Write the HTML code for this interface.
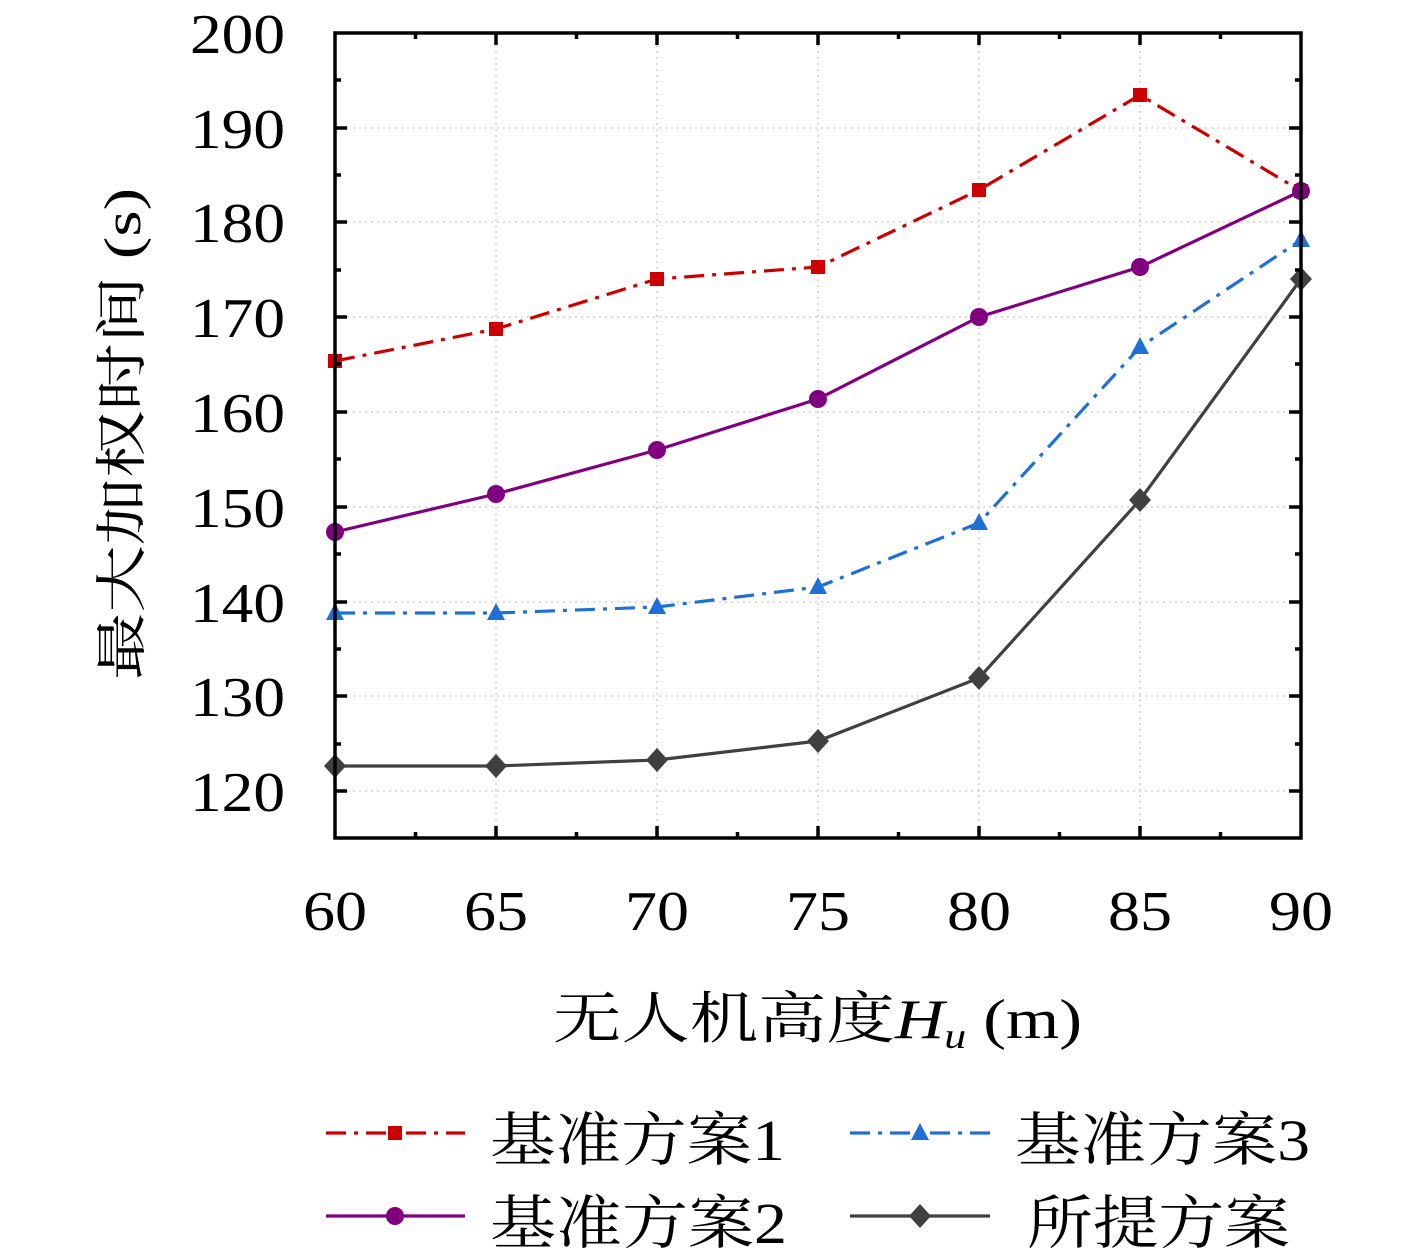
<!DOCTYPE html>
<html><head><meta charset="utf-8"><style>
html,body{margin:0;padding:0;background:#fff;}
svg{display:block;}
text{font-family:"Liberation Serif","Noto Serif CJK SC",serif;fill:#000;}
</style></head><body>
<svg width="1417" height="1259" viewBox="0 0 1417 1259" xmlns="http://www.w3.org/2000/svg">
<defs>
<rect id="sq" x="-7" y="-7" width="14" height="14" fill="#cc0000"/>
<circle id="ci" r="9" fill="#800080"/>
<path id="tr" d="M0,-10 L9,7 L-9,7 Z" fill="#1f6fd6"/>
<path id="di" d="M0,-12 L11,0 L0,12 L-11,0 Z" fill="#404040"/>
</defs>
<g stroke="#c8c8c8" stroke-width="1.3" stroke-dasharray="2,4">
<line x1="496" y1="33" x2="496" y2="838"/><line x1="657" y1="33" x2="657" y2="838"/><line x1="818" y1="33" x2="818" y2="838"/><line x1="979" y1="33" x2="979" y2="838"/><line x1="1140" y1="33" x2="1140" y2="838"/>
<line x1="335" y1="128" x2="1301" y2="128"/><line x1="335" y1="222" x2="1301" y2="222"/><line x1="335" y1="317" x2="1301" y2="317"/><line x1="335" y1="412" x2="1301" y2="412"/><line x1="335" y1="507" x2="1301" y2="507"/><line x1="335" y1="602" x2="1301" y2="602"/><line x1="335" y1="696" x2="1301" y2="696"/><line x1="335" y1="791" x2="1301" y2="791"/>
</g>
<polyline points="335,361 496,329 657,279 818,267 979,190 1140,95 1301,191" fill="none" stroke="#cc0000" stroke-width="3.2" stroke-dasharray="20,8,4,8"/>
<polyline points="335,532 496,494 657,450 818,399 979,317 1140,267 1301,191" fill="none" stroke="#800080" stroke-width="3.2"/>
<polyline points="335,613 496,613 657,607 818,587 979,523 1140,347 1301,240" fill="none" stroke="#1f6fd6" stroke-width="3.2" stroke-dasharray="20,8,4,8"/>
<polyline points="335,766 496,766 657,760 818,741 979,678 1140,500 1301,279" fill="none" stroke="#404040" stroke-width="3.2"/>
<g>
<use href="#sq" x="335" y="361"/><use href="#sq" x="496" y="329"/><use href="#sq" x="657" y="279"/><use href="#sq" x="818" y="267"/><use href="#sq" x="979" y="190"/><use href="#sq" x="1140" y="95"/><use href="#sq" x="1301" y="191"/>
<use href="#tr" x="335" y="613"/><use href="#tr" x="496" y="613"/><use href="#tr" x="657" y="607"/><use href="#tr" x="818" y="587"/><use href="#tr" x="979" y="523"/><use href="#tr" x="1140" y="347"/><use href="#tr" x="1301" y="240"/>
<use href="#ci" x="335" y="532"/><use href="#ci" x="496" y="494"/><use href="#ci" x="657" y="450"/><use href="#ci" x="818" y="399"/><use href="#ci" x="979" y="317"/><use href="#ci" x="1140" y="267"/><use href="#ci" x="1301" y="191"/>
<use href="#di" x="335" y="766"/><use href="#di" x="496" y="766"/><use href="#di" x="657" y="760"/><use href="#di" x="818" y="741"/><use href="#di" x="979" y="678"/><use href="#di" x="1140" y="500"/><use href="#di" x="1301" y="279"/>
</g>
<rect x="335" y="33" width="966" height="805" fill="none" stroke="#000" stroke-width="3.5"/>
<g stroke="#000" stroke-width="3.5">
<path d="M496,838v-12M657,838v-12M818,838v-12M979,838v-12M1140,838v-12M496,33v12M657,33v12M818,33v12M979,33v12M1140,33v12"/>
<path d="M415.5,838v-6M576.5,838v-6M737.5,838v-6M898.5,838v-6M1059.5,838v-6M1220.5,838v-6M415.5,33v6M576.5,33v6M737.5,33v6M898.5,33v6M1059.5,33v6M1220.5,33v6"/>
<path d="M335,128h12M335,222h12M335,317h12M335,412h12M335,507h12M335,602h12M335,696h12M335,791h12M1301,128h-12M1301,222h-12M1301,317h-12M1301,412h-12M1301,507h-12M1301,602h-12M1301,696h-12M1301,791h-12"/>
<path d="M335,80h6M335,175h6M335,270h6M335,364h6M335,459h6M335,554h6M335,649h6M335,744h6M1301,80h-6M1301,175h-6M1301,270h-6M1301,364h-6M1301,459h-6M1301,554h-6M1301,649h-6M1301,744h-6"/>
</g>
<g font-size="56">
<text x="190" y="53" textLength="95" lengthAdjust="spacingAndGlyphs">200</text>
<text x="190" y="148" textLength="95" lengthAdjust="spacingAndGlyphs">190</text>
<text x="190" y="242" textLength="95" lengthAdjust="spacingAndGlyphs">180</text>
<text x="190" y="337" textLength="95" lengthAdjust="spacingAndGlyphs">170</text>
<text x="190" y="432" textLength="95" lengthAdjust="spacingAndGlyphs">160</text>
<text x="190" y="527" textLength="95" lengthAdjust="spacingAndGlyphs">150</text>
<text x="190" y="622" textLength="95" lengthAdjust="spacingAndGlyphs">140</text>
<text x="190" y="716" textLength="95" lengthAdjust="spacingAndGlyphs">130</text>
<text x="190" y="811" textLength="95" lengthAdjust="spacingAndGlyphs">120</text>
</g>
<g font-size="56">
<text x="303" y="930" textLength="64" lengthAdjust="spacingAndGlyphs">60</text>
<text x="464" y="930" textLength="64" lengthAdjust="spacingAndGlyphs">65</text>
<text x="625" y="930" textLength="64" lengthAdjust="spacingAndGlyphs">70</text>
<text x="786" y="930" textLength="64" lengthAdjust="spacingAndGlyphs">75</text>
<text x="947" y="930" textLength="64" lengthAdjust="spacingAndGlyphs">80</text>
<text x="1108" y="930" textLength="64" lengthAdjust="spacingAndGlyphs">85</text>
<text x="1269" y="930" textLength="64" lengthAdjust="spacingAndGlyphs">90</text>
</g>
<text transform="translate(140,680) rotate(-90)" font-size="52" textLength="492" lengthAdjust="spacingAndGlyphs">最大加权时间 (s)</text>
<text x="553" y="1038" font-size="56" textLength="529" lengthAdjust="spacingAndGlyphs">无人机高度<tspan font-style="italic">H</tspan><tspan font-style="italic" font-size="36" dy="10">u</tspan><tspan dy="-10"> (m)</tspan></text>
<line x1="326" y1="1133" x2="465" y2="1133" stroke="#cc0000" stroke-width="3.2" stroke-dasharray="20,8,4,8"/>
<use href="#sq" x="395" y="1133"/>
<text x="490" y="1160" font-size="58" textLength="295" lengthAdjust="spacingAndGlyphs">基准方案1</text>
<line x1="326" y1="1216" x2="465" y2="1216" stroke="#800080" stroke-width="3.2"/>
<use href="#ci" x="395" y="1216"/>
<text x="490" y="1243" font-size="58" textLength="297" lengthAdjust="spacingAndGlyphs">基准方案2</text>
<line x1="850" y1="1133" x2="990" y2="1133" stroke="#1f6fd6" stroke-width="3.2" stroke-dasharray="20,8,4,8"/>
<use href="#tr" x="920" y="1133"/>
<text x="1015" y="1160" font-size="58" textLength="295" lengthAdjust="spacingAndGlyphs">基准方案3</text>
<line x1="850" y1="1216" x2="990" y2="1216" stroke="#404040" stroke-width="3.2"/>
<use href="#di" x="920" y="1216"/>
<text x="1027" y="1243" font-size="58" textLength="263" lengthAdjust="spacingAndGlyphs">所提方案</text>
</svg>
</body></html>
